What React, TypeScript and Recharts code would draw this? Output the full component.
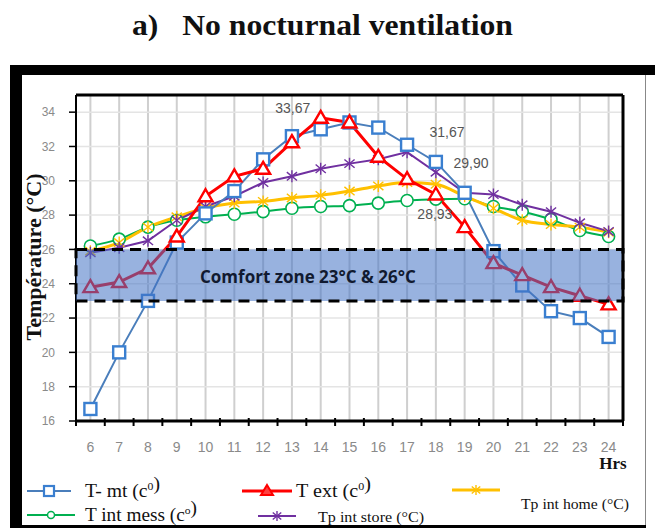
import React from 'react';
import {
  LineChart,
  Line,
  XAxis,
  YAxis,
  CartesianGrid,
  ReferenceArea,
  ReferenceLine,
  LabelList,
} from 'recharts';

// ---------- data ----------
const hours = [6, 7, 8, 9, 10, 11, 12, 13, 14, 15, 16, 17, 18, 19, 20, 21, 22, 23, 24];
const tMt = [16.7, 20.0, 23.0, 26.4, 28.1, 29.4, 31.25, 32.6, 33.0, 33.4, 33.1, 32.1, 31.1, 29.3, 25.9, 23.9, 22.4, 22.0, 20.9];
const tExt = [23.8, 24.1, 24.9, 26.75, 29.1, 30.26, 30.7, 32.25, 33.67, 33.4, 31.4, 30.1, 29.2, 27.3, 25.2, 24.5, 23.8, 23.3, 22.8];
const tpHome = [25.9, 26.4, 27.3, 27.9, 28.4, 28.7, 28.8, 29.0, 29.15, 29.4, 29.7, 29.9, 29.8, 29.1, 28.4, 27.7, 27.45, 27.3, 27.0];
const tMess = [26.2, 26.6, 27.3, 27.7, 27.9, 28.05, 28.2, 28.4, 28.5, 28.55, 28.7, 28.85, 28.93, 28.95, 28.5, 28.2, 27.75, 27.1, 26.75];
const tpStore = [25.8, 26.1, 26.5, 27.7, 28.5, 29.1, 29.9, 30.26, 30.7, 31.0, 31.25, 31.67, 30.5, 29.3, 29.2, 28.6, 28.2, 27.55, 27.05];
const yTicks = [16, 18, 20, 22, 24, 26, 28, 30, 32, 34];
const yDomain = [16, 35];
const xDomain = [5.5, 24.5];
const comfortLow = 23;
const comfortHigh = 26;
const seriesNames = ['T- mt (c', 'T ext (c', 'Tp int home (°C)', 'T int mess (c', 'Tp int store (°C)'];
const annotations = [
  { series: 'ext', hour: 14, text: '33,67' },
  { series: 'store', hour: 17, text: '31,67' },
  { series: 'home', hour: 17, text: '29,90' },
  { series: 'mess', hour: 18, text: '28,93' },
];

const data = hours.map((h, i) => ({
  h,
  mt: tMt[i],
  ext: tExt[i],
  home: tpHome[i],
  mess: tMess[i],
  store: tpStore[i],
}));

// ---------- styles ----------
const C = {
  mt: '#3a7fd0',
  mtLine: '#4a7ebb',
  ext: '#ff0000',
  home: '#ffc000',
  mess: '#00b050',
  store: '#7030a0',
};
const annOffsets: Record<string, [number, number]> = {
  ext: [-28, -10],
  store: [40, -20],
  home: [64, -20],
  mess: [-1, 15],
};
const serif = '"Liberation Serif", "Times New Roman", serif';
const sans = '"Liberation Sans", Arial, sans-serif';

const squareDot = (color: string) => (p: any) => (
  <rect key={`sq-${p.index}`} x={p.cx - 6} y={p.cy - 6} width={12} height={12} fill="#fff" stroke={color} strokeWidth={2.4} />
);
const triDot = (color: string) => (p: any) => (
  <path
    key={`tr-${p.index}`}
    d={`M${p.cx},${p.cy - 7} L${p.cx + 7},${p.cy + 5} L${p.cx - 7},${p.cy + 5} Z`}
    fill="#fff"
    stroke={color}
    strokeWidth={2.4}
  />
);
const circleDot = (color: string) => (p: any) => (
  <circle key={`ci-${p.index}`} cx={p.cx} cy={p.cy} r={6} fill="#fff" stroke={color} strokeWidth={1.6} />
);
const starShape = (cx: number, cy: number, color: string, r = 6, key?: string) => (
  <g key={key} stroke={color} strokeWidth={1.4}>
    <line x1={cx} y1={cy - r} x2={cx} y2={cy + r} />
    <line x1={cx - r * 0.85} y1={cy - r * 0.7} x2={cx + r * 0.85} y2={cy + r * 0.7} />
    <line x1={cx - r * 0.85} y1={cy + r * 0.7} x2={cx + r * 0.85} y2={cy - r * 0.7} />
  </g>
);
const starDot = (color: string) => (p: any) => starShape(p.cx, p.cy, color, 6, `st-${p.index}`);

const XTick = (props: any) => {
  const { x, y, payload, index } = props;
  const half = 14.4;
  return (
    <g>
      <line x1={x - half} x2={x - half} y1={y - 3} y2={y + 5} stroke="#000" strokeWidth={2} />
      {index === hours.length - 1 ? (
        <line x1={x + half} x2={x + half} y1={y - 3} y2={y + 5} stroke="#000" strokeWidth={2} />
      ) : null}
      <text x={x} y={y + 31} textAnchor="middle" fill="#8a8a8a" fontSize={14} fontFamily={sans}>
        {payload.value}
      </text>
    </g>
  );
};

const annLabel = (series: string) => (p: any) => {
  const a = annotations.find((an) => an.series === series && an.hour === hours[p.index]);
  if (!a) return null;
  const [dx, dy] = annOffsets[series];
  return (
    <text
      key={`an-${series}`}
      x={p.x + dx}
      y={p.y + dy}
      textAnchor="middle"
      dominantBaseline="central"
      fill="#555"
      fontSize={14}
      fontFamily={sans}
    >
      {a.text}
    </text>
  );
};

const comfortLabel = (p: any) => {
  const vb = p.viewBox || {};
  return (
    <text
      x={(vb.x || 0) + 124}
      y={(vb.y || 0) + (vb.height || 0) / 2 + 1}
      dominantBaseline="central"
      fill="#111a30"
      fontSize={17}
      fontWeight="bold"
      fontFamily='"Open Sans", sans-serif'
    >
      {`Comfort zone ${comfortLow}°C & ${comfortHigh}°C`}
    </text>
  );
};

const Sup = ({ children }: { children: React.ReactNode }) => (
  <tspan fontSize="0.6em" dy={-7}>
    {children}
  </tspan>
);

export default function App() {
  return (
    <div style={{ position: 'absolute', left: 0, top: 0, width: 655, height: 528, background: '#fff', overflow: 'hidden' }}>
      {/* frame */}
      <div style={{ position: 'absolute', left: 10, top: 65, width: 645, height: 10, background: '#000' }} />
      <div style={{ position: 'absolute', left: 10, top: 65, width: 12, height: 463, background: '#000' }} />
      <div style={{ position: 'absolute', left: 645, top: 75, width: 1, height: 453, background: '#888' }} />
      <div style={{ position: 'absolute', left: 10, top: 525, width: 636, height: 3, background: '#000' }} />

      <div style={{ position: 'absolute', left: 0, top: 0 }}>
        <LineChart width={655} height={528} data={data} margin={{ top: 95, right: 32, bottom: 77, left: 36 }}>
          <CartesianGrid horizontal={false} vertical stroke="#cfcfcf" strokeWidth={2} />
          <CartesianGrid horizontal vertical={false} stroke="#e4e4e4" strokeWidth={1.5} />
          <XAxis
            dataKey="h"
            type="number"
            domain={xDomain}
            ticks={hours}
            interval={0}
            tickLine={false}
            tickSize={0}
            tickMargin={0}
            axisLine={{ stroke: '#000', strokeWidth: 3 }}
            tick={<XTick />}
            height={30}
          />
          <YAxis
            type="number"
            domain={yDomain}
            ticks={yTicks}
            interval={0}
            allowDataOverflow
            width={40}
            tickSize={7}
            tickMargin={14}
            tickLine={{ stroke: '#000', strokeWidth: 1.5 }}
            axisLine={{ stroke: '#000', strokeWidth: 2 }}
            tick={{ fill: '#8a8a8a', fontSize: 12, fontFamily: sans }}
          />
          <Line dataKey="mess" stroke={C.mess} strokeWidth={2} dot={circleDot(C.mess)} isAnimationActive={false} type="monotone">
            <LabelList dataKey="mess" content={annLabel('mess')} />
          </Line>
          <Line dataKey="home" stroke={C.home} strokeWidth={3} dot={starDot(C.home)} isAnimationActive={false} type="monotone">
            <LabelList dataKey="home" content={annLabel('home')} />
          </Line>
          <Line dataKey="store" stroke={C.store} strokeWidth={2} dot={starDot(C.store)} isAnimationActive={false}>
            <LabelList dataKey="store" content={annLabel('store')} />
          </Line>
          <Line dataKey="mt" stroke={C.mtLine} strokeWidth={2} dot={squareDot(C.mt)} isAnimationActive={false} />
          <Line dataKey="ext" stroke={C.ext} strokeWidth={3} dot={triDot(C.ext)} isAnimationActive={false}>
            <LabelList dataKey="ext" content={annLabel('ext')} />
          </Line>
        </LineChart>
      </div>

      {/* overlay chart with the same scales: comfort zone drawn over the series */}
      <div style={{ position: 'absolute', left: 0, top: 0 }}>
        <LineChart width={655} height={528} data={data} margin={{ top: 95, right: 32, bottom: 107, left: 76 }}>
          <XAxis dataKey="h" type="number" domain={xDomain} hide />
          <YAxis type="number" domain={yDomain} allowDataOverflow hide />
          <ReferenceArea
            x1={xDomain[0]}
            x2={xDomain[1]}
            y1={comfortLow}
            y2={comfortHigh}
            fill="#4472c4"
            fillOpacity={0.55}
            stroke="#000"
            strokeWidth={3}
            strokeDasharray="11 7"
            ifOverflow="visible"
            label={comfortLabel}
          />
          <ReferenceLine y={yDomain[1]} stroke="#000" strokeWidth={3} ifOverflow="visible" />
          <ReferenceLine x={xDomain[1]} stroke="#000" strokeWidth={3} ifOverflow="visible" />
        </LineChart>
      </div>

      {/* overlay texts and legend */}
      <svg width={655} height={528} style={{ position: 'absolute', left: 0, top: 0, pointerEvents: 'none' }}>
        <text
          x={132}
          y={35}
          fontFamily={serif}
          fontWeight="bold"
          fontSize={30}
          textLength={381}
          lengthAdjust="spacingAndGlyphs"
          fill="#111"
          style={{ whiteSpace: 'pre' }}
        >
          {'a)   No nocturnal ventilation'}
        </text>
        <text
          x={41}
          y={257}
          transform="rotate(-90, 41, 257)"
          textAnchor="middle"
          fontFamily={serif}
          fontWeight="bold"
          fontSize={21}
          textLength={167}
          lengthAdjust="spacingAndGlyphs"
          fill="#111"
        >
          Température (°C)
        </text>
        <text x={613} y={469} textAnchor="middle" fontFamily={serif} fontWeight="bold" fontSize={17} fill="#111">
          Hrs
        </text>

        {/* legend row 1 */}
        <line x1={27} x2={71} y1={491} y2={491} stroke={C.mtLine} strokeWidth={2} />
        <rect x={44} y={486} width={10} height={10} fill="#fff" stroke={C.mt} strokeWidth={2.2} />
        <text x={85} y={497} fontFamily={serif} fontSize={18} textLength={75} lengthAdjust="spacingAndGlyphs" fill="#111">
          {seriesNames[0]}
          <Sup>0</Sup>)
        </text>

        <line x1={242} x2={292} y1={491} y2={491} stroke={C.ext} strokeWidth={3} />
        <path d="M267,485 L273,495 L261,495 Z" fill="#ff4040" stroke={C.ext} strokeWidth={2} />
        <text x={296} y={497} fontFamily={serif} fontSize={18} textLength={75} lengthAdjust="spacingAndGlyphs" fill="#111">
          {seriesNames[1]}
          <Sup>0</Sup>)
        </text>

        <line x1={452} x2={500} y1={490} y2={490} stroke={C.home} strokeWidth={3} />
        {starShape(476, 490, C.home, 5)}
        <text x={521} y={509} fontFamily={serif} fontSize={15} textLength={108} lengthAdjust="spacingAndGlyphs" fill="#111">
          {seriesNames[2]}
        </text>

        {/* legend row 2 */}
        <line x1={27} x2={75} y1={515} y2={515} stroke={C.mess} strokeWidth={2} />
        <circle cx={51} cy={515} r={3.5} fill="#fff" stroke={C.mess} strokeWidth={1.5} />
        <text x={85} y={521} fontFamily={serif} fontSize={18} textLength={112} lengthAdjust="spacingAndGlyphs" fill="#111">
          {seriesNames[3]}
          <Sup>o</Sup>)
        </text>

        <line x1={258} x2={296} y1={516} y2={516} stroke={C.store} strokeWidth={2} />
        {starShape(277, 516, C.store, 5)}
        <text x={318} y={522} fontFamily={serif} fontSize={15} textLength={106} lengthAdjust="spacingAndGlyphs" fill="#111">
          {seriesNames[4]}
        </text>
      </svg>
    </div>
  );
}
